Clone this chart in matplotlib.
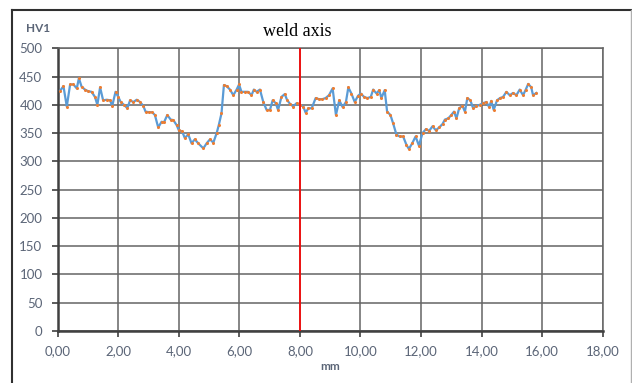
import matplotlib
matplotlib.use("Agg")
import matplotlib.pyplot as plt
from matplotlib.lines import Line2D
from matplotlib.ticker import FuncFormatter

# hardness profile (position in mm, HV1)
pos_mm = [
    0.08, 0.19, 0.30, 0.41, 0.52, 0.63, 0.70, 0.79, 0.90, 1.01,
    1.12, 1.23, 1.31, 1.40, 1.50, 1.62, 1.73, 1.80, 1.91, 2.00,
    2.08, 2.19, 2.30, 2.39, 2.50, 2.61, 2.72, 2.83, 2.90, 3.01,
    3.12, 3.21, 3.32, 3.43, 3.51, 3.62, 3.73, 3.82, 3.93, 4.00,
    4.11, 4.20, 4.31, 4.42, 4.53, 4.64, 4.81, 4.92, 5.03, 5.14,
    5.25, 5.32, 5.41, 5.49, 5.58, 5.69, 5.80, 5.91, 5.99, 6.07,
    6.18, 6.29, 6.40, 6.48, 6.57, 6.68, 6.79, 6.90, 7.01, 7.10,
    7.20, 7.28, 7.39, 7.50, 7.58, 7.67, 7.78, 7.89, 8.00, 8.11,
    8.19, 8.28, 8.39, 8.52, 8.63, 8.74, 8.85, 8.96, 9.08, 9.19,
    9.30, 9.41, 9.52, 9.60, 9.70, 9.81, 9.92, 10.01, 10.12, 10.23,
    10.34, 10.42, 10.53, 10.62, 10.69, 10.80, 10.88, 10.99, 11.08, 11.19,
    11.30, 11.41, 11.52, 11.60, 11.71, 11.82, 11.93, 12.05, 12.16, 12.27,
    12.38, 12.49, 12.60, 12.71, 12.79, 12.90, 13.00, 13.09, 13.17, 13.26,
    13.37, 13.45, 13.53, 13.63, 13.72, 13.83, 13.94, 14.05, 14.16, 14.25,
    14.32, 14.40, 14.51, 14.61, 14.71, 14.82, 14.93, 15.04, 15.15, 15.26,
    15.37, 15.46, 15.54, 15.64, 15.70, 15.81,
]
hv1 = [
    425, 433, 397, 436, 436, 429, 447, 432, 427, 424,
    423, 414, 400, 431, 408, 409, 408, 398, 423, 414,
    405, 400, 394, 408, 405, 409, 405, 398, 388, 387,
    387, 382, 360, 370, 369, 382, 374, 373, 364, 355,
    353, 341, 348, 332, 339, 332, 323, 332, 339, 333,
    350, 364, 385, 435, 433, 427, 417, 427, 436, 423,
    423, 423, 417, 427, 423, 427, 405, 391, 391, 408,
    403, 391, 414, 419, 408, 402, 397, 403, 400, 397,
    386, 394, 394, 412, 410, 410, 412, 417, 429, 382,
    408, 396, 405, 431, 420, 405, 416, 420, 414, 412,
    414, 427, 420, 426, 412, 426, 388, 382, 367, 347,
    344, 344, 329, 322, 332, 344, 328, 350, 357, 354,
    362, 355, 360, 366, 374, 376, 382, 388, 376, 394,
    398, 388, 412, 408, 394, 398, 400, 403, 405, 396,
    407, 391, 408, 412, 414, 423, 417, 421, 417, 427,
    417, 427, 437, 431, 417, 421,
]

weld_axis_mm = 8.0
x_ticks = [0, 2, 4, 6, 8, 10, 12, 14, 16, 18]
y_ticks = [0, 50, 100, 150, 200, 250, 300, 350, 400, 450, 500]

label_color = "#5b6577"
grid_color = "#656565"

fig = plt.figure(figsize=(6.32, 3.83), dpi=100)
ax = fig.add_axes([0.0913, 0.1358, 0.8623, 0.7381])

ax.plot(pos_mm, hv1, color="#5b9bd5", lw=1.6, zorder=3)
ax.plot(pos_mm, hv1, ls="none", marker="o", ms=2.2, mew=0,
        color="#ed7d31", zorder=4)
ax.axvline(weld_axis_mm, color="#ff0000", lw=1.2, zorder=5)

ax.set_xlim(0, 18)
ax.set_ylim(0, 500)
ax.set_xticks(x_ticks)
ax.set_yticks(y_ticks)
ax.xaxis.set_major_formatter(FuncFormatter(lambda v, p: "{:.2f}".format(v).replace(".", ",")))

ax.grid(True, color=grid_color, lw=1.1)
ax.set_axisbelow(True)
for side in ["top", "right"]:
    ax.spines[side].set_color(grid_color)
    ax.spines[side].set_linewidth(1.1)
for side in ["left", "bottom"]:
    ax.spines[side].set_color("#404040")
    ax.spines[side].set_linewidth(1.8)

ax.tick_params(axis="both", colors="#404040", length=4, width=1.2,
               labelcolor=label_color, labelsize=9.5)
ax.tick_params(axis="x", pad=6)
ax.tick_params(axis="y", pad=7)
for lbl in ax.get_xticklabels() + ax.get_yticklabels():
    lbl.set_family("Lato")

ax.set_xlabel("mm", family="Lato", fontsize=8.5, fontweight="bold",
              color=label_color, labelpad=3)
fig.text(26 / 632, 1 - 29 / 383, "HV1", family="Lato", fontsize=8.5,
         fontweight="bold", color=label_color, va="center", ha="left")
fig.text(297 / 632, 1 - 31 / 383, "weld axis", family="Liberation Serif",
         fontsize=13, color="black", va="center", ha="center")

# outer frame of the picture
fig.add_artist(Line2D([12 / 632, 631 / 632], [1 - 10 / 383, 1 - 10 / 383],
                      transform=fig.transFigure, color="#303030", lw=1.5))
fig.add_artist(Line2D([12 / 632, 12 / 632], [1 - 10 / 383, 1 - 382 / 383],
                      transform=fig.transFigure, color="#303030", lw=1.5))
fig.add_artist(Line2D([631 / 632, 631 / 632], [1 - 10 / 383, 1 - 382 / 383],
                      transform=fig.transFigure, color="#b0b0b0", lw=1.0))

fig.savefig("out.png", dpi=100)
